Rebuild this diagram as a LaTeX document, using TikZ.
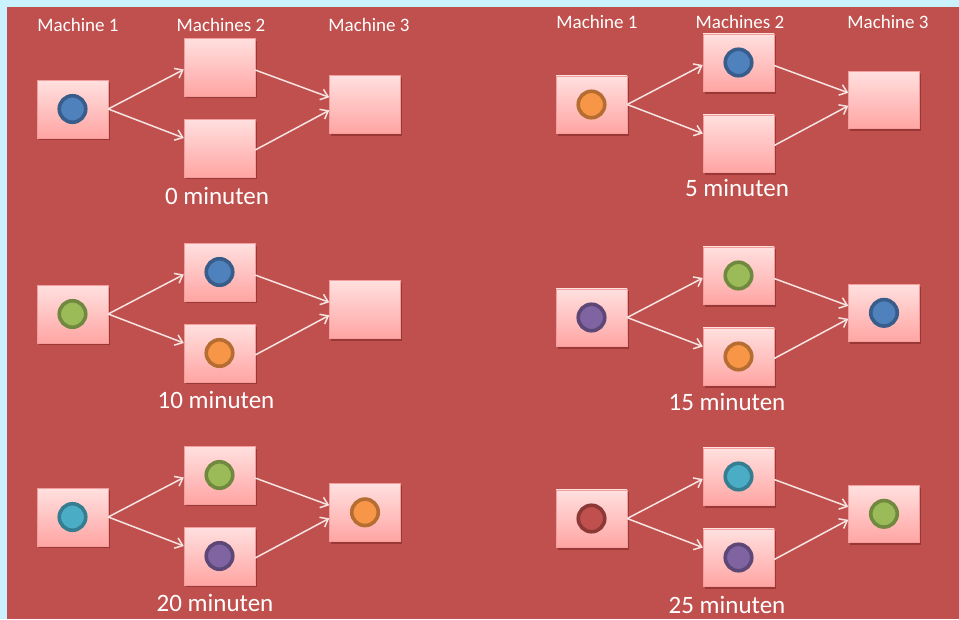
\documentclass[tikz,border=0pt]{standalone}
\usepackage{fontspec}
\setmainfont{Carlito}
\usetikzlibrary{calc,shadows,arrows.meta}

\definecolor{framecyan}{HTML}{C9F1FE}
\definecolor{bgred}{HTML}{C0504D}
\definecolor{boxtop}{HTML}{FFE0DF}
\definecolor{boxbot}{HTML}{FFA5A3}
\definecolor{boxedge}{HTML}{F29E9C}
\definecolor{shadowred}{HTML}{7E2623}
\definecolor{flowline}{HTML}{F6E4E3}
\definecolor{partblue}{HTML}{4F81BD}\definecolor{partblueedge}{HTML}{385D8A}
\definecolor{partorange}{HTML}{F79646}\definecolor{partorangeedge}{HTML}{B66D31}
\definecolor{partgreen}{HTML}{9BBB59}\definecolor{partgreenedge}{HTML}{71893F}
\definecolor{partpurple}{HTML}{8064A2}\definecolor{partpurpleedge}{HTML}{5C4776}
\definecolor{partaqua}{HTML}{4BACC6}\definecolor{partaquaedge}{HTML}{357D91}
\definecolor{partred}{HTML}{C0504D}\definecolor{partrededge}{HTML}{8C3836}

% a part inside a machine; an empty colour argument leaves the machine empty
\newcommand\partin[2]{\ifx\relax#2\relax\else\node[part,#2] (#1p) at (#1) {};\fi}

% one snapshot: machine 1, two parallel machines 2, machine 3
% #1 name, #2/#3 centre of machine 1, #4..#7 parts in m1, m2a, m2b, m3
\newcommand\snapshot[7]{%
  \node[machine] (#1m1)  at (#2,#3) {};
  \node[machine] (#1m2a) at (#2+147,#3-42) {};
  \node[machine] (#1m2b) at (#2+147,#3+39) {};
  \node[machine] (#1m3)  at (#2+292.5,#3-4.7) {};
  \partin{#1m1}{#4}\partin{#1m2a}{#5}\partin{#1m2b}{#6}\partin{#1m3}{#7}
  \draw[flow] (#1m1.east) -- ($(#1m2a.west)+(0,2.5)$);
  \draw[flow] (#1m1.east) -- ($(#1m2b.west)+(0,-10)$);
  \draw[flow] ($(#1m2a.east)+(0,3)$) -- ($(#1m3.west)+(0,-7)$);
  \draw[flow] ($(#1m2b.east)+(0,2)$) -- ($(#1m3.west)+(0,6)$);
}

\begin{document}
\begin{tikzpicture}[x=1pt,y=-1pt,
  machine/.style={draw=boxedge, line width=0.4pt, top color=boxtop, bottom color=boxbot,
    minimum width=71pt, minimum height=57.5pt, inner sep=0pt,
    drop shadow={shadow xshift=1.5pt, shadow yshift=-2.5pt, fill=shadowred, opacity=0.55}},
  flow/.style={draw=flowline, line width=1.5pt, -{Straight Barb[length=7pt,width=11pt]}},
  head/.style={text=white, inner sep=0pt, font=\fontsize{19}{21}\selectfont},
  stamp/.style={text=white, inner sep=0pt, font=\fontsize{25}{29}\selectfont},
  part/.style={circle, minimum size=26.5pt, line width=3.6pt, inner sep=0pt},
  pblue/.style={fill=partblue, draw=partblueedge},
  porange/.style={fill=partorange, draw=partorangeedge},
  pgreen/.style={fill=partgreen, draw=partgreenedge},
  ppurple/.style={fill=partpurple, draw=partpurpleedge},
  paqua/.style={fill=partaqua, draw=partaquaedge},
  pred/.style={fill=partred, draw=partrededge}]

\useasboundingbox (0,0) rectangle (959,619);
\fill[framecyan] (0,0) rectangle (959,619);
\fill[bgred] (7,7) rectangle (959,619);

% column headers
\node[head] (hl1) at (78,25)  {Machine 1};
\node[head] (hl2) at (221,25) {Machines 2};
\node[head] (hl3) at (369,25) {Machine 3};
\node[head] (hr1) at (597,22) {Machine 1};
\node[head] (hr2) at (740,22) {Machines 2};
\node[head] (hr3) at (888,22) {Machine 3};

% the six moments
\snapshot{a}{72.5}{109}{pblue}{}{}{}
\snapshot{b}{591.5}{104.5}{porange}{pblue}{}{}
\snapshot{c}{72.5}{314}{pgreen}{pblue}{porange}{}
\snapshot{d}{591.5}{317.5}{ppurple}{pgreen}{porange}{pblue}
\snapshot{e}{72.5}{517}{paqua}{pgreen}{ppurple}{porange}
\snapshot{f}{591.5}{518.5}{pred}{paqua}{ppurple}{pgreen}

% time stamps
\node[stamp] (ta) at (217,196) {0 minuten};
\node[stamp] (tb) at (737,188) {5 minuten};
\node[stamp] (tc) at (216,400) {10 minuten};
\node[stamp] (td) at (727,402) {15 minuten};
\node[stamp] (te) at (215,603) {20 minuten};
\node[stamp] (tf) at (727,605) {25 minuten};
\end{tikzpicture}
\end{document}
